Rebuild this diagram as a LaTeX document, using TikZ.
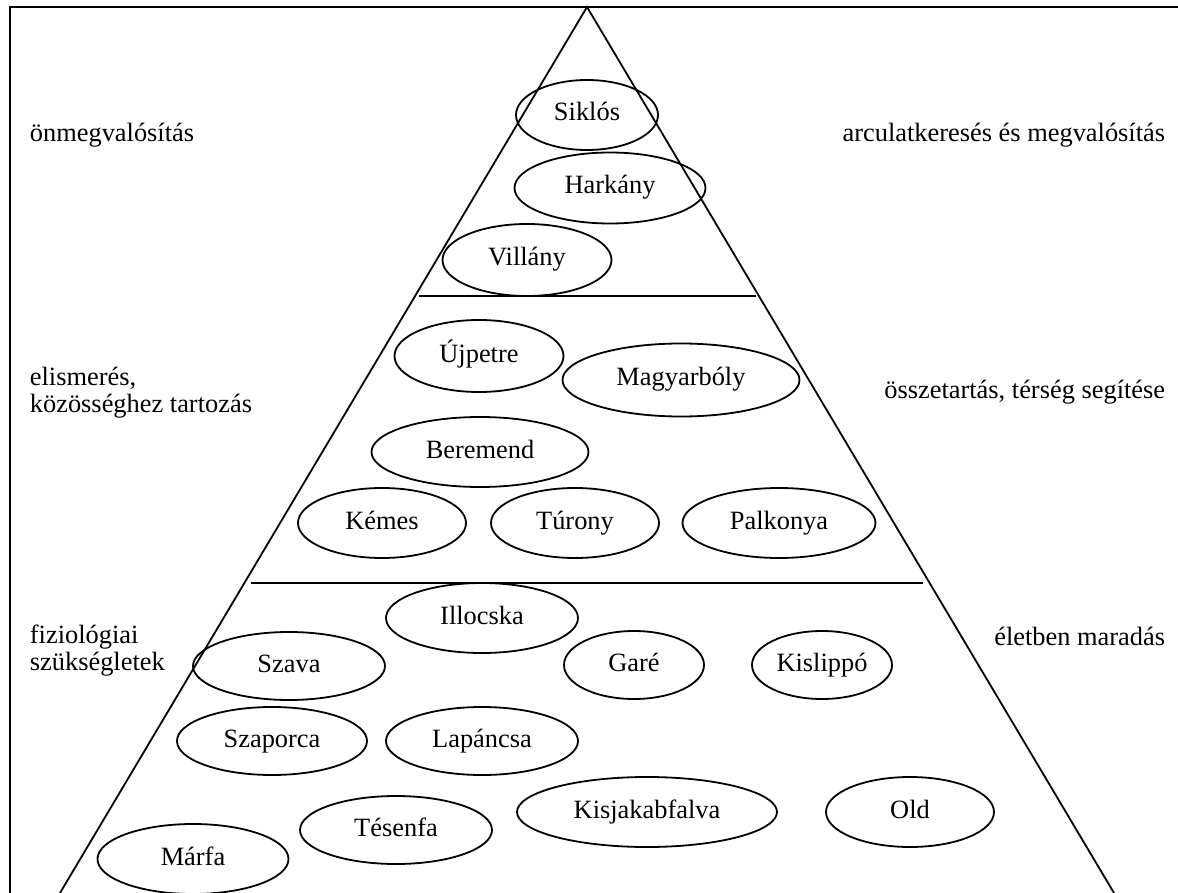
\documentclass[tikz,border=0pt]{standalone}
\usepackage{fontspec}
\setmainfont{Liberation Serif}
\usetikzlibrary{shapes.geometric}

\begin{document}
\begin{tikzpicture}
  [x=0.5pt,y=-0.5pt,line width=0.9pt,
   every node/.style={font=\fontsize{13.2}{13.5}\selectfont,inner sep=0pt},
   town/.style={ellipse,draw,line width=0.9pt,text height=0.7em,text depth=0.1em}]
  \useasboundingbox (0,0) rectangle (1178,893);
  \clip (0,0) rectangle (1178,893);

  % frame and pyramid
  \draw (10,7) rectangle (1220,940);
  \coordinate (apex) at (587,7);
  \coordinate (bl) at (60,893);
  \coordinate (br) at (1114,893);
  \draw (bl) -- (apex) -- (br);
  \coordinate (l1) at (419,296);
  \coordinate (r1) at (756,296);
  \coordinate (l2) at (251,583);
  \coordinate (r2) at (923,583);
  \draw (l1) -- (r1);
  \draw (l2) -- (r2);

  % top level
  \node[town,minimum width=71pt,minimum height=35pt] (siklos) at (587,115) {Siklós};
  \node[town,minimum width=95.5pt,minimum height=35.5pt] (harkany) at (610,188) {Harkány};
  \node[town,minimum width=84.5pt,minimum height=36pt] (villany) at (527,260) {Villány};

  % middle level
  \node[town,minimum width=84.5pt,minimum height=36pt] (ujpetre) at (479,356) {Újpetre};
  \node[town,minimum width=118.5pt,minimum height=36.5pt] (magyarboly) at (681,380) {Magyarbóly};
  \node[town,minimum width=108.5pt,minimum height=35pt] (beremend) at (480,452) {Beremend};
  \node[town,minimum width=84pt,minimum height=35pt] (kemes) at (382,523) {Kémes};
  \node[town,minimum width=84pt,minimum height=35pt] (turony) at (575,523) {Túrony};
  \node[town,minimum width=96.5pt,minimum height=35pt] (palkonya) at (779,523) {Palkonya};

  % bottom level
  \node[town,minimum width=96pt,minimum height=35pt] (illocska) at (482,618) {Illocska};
  \node[town,minimum width=96pt,minimum height=34pt] (szava) at (289,666) {Szava};
  \node[town,minimum width=70pt,minimum height=34pt] (gare) at (634,665) {Garé};
  \node[town,minimum width=70pt,minimum height=34pt] (kislippo) at (822,665) {Kislippó};
  \node[town,minimum width=95pt,minimum height=34pt] (szaporca) at (272,741) {Szaporca};
  \node[town,minimum width=96pt,minimum height=34pt] (lapancsa) at (482,741) {Lapáncsa};
  \node[town,minimum width=130pt,minimum height=35pt] (kisjakabfalva) at (647,812) {Kisjakabfalva};
  \node[town,minimum width=84pt,minimum height=35pt] (old) at (910,812) {Old};
  \node[town,minimum width=96pt,minimum height=34pt] (tesenfa) at (396,830) {Tésenfa};
  \node[town,minimum width=95.5pt,minimum height=35pt] (marfa) at (193,859) {Márfa};

  % side labels
  \node[anchor=west] (need1) at (29,135) {önmegvalósítás};
  \node[anchor=west,align=left] (need2) at (29,393) {elismerés,\\közösséghez tartozás};
  \node[anchor=west,align=left] (need3) at (29,651) {fiziológiai\\szükségletek};
  \node[anchor=east] (goal1) at (1166,135) {arculatkeresés és megvalósítás};
  \node[anchor=east] (goal2) at (1166,392) {összetartás, térség segítése};
  \node[anchor=east] (goal3) at (1166,636) {életben maradás};

\end{tikzpicture}
\end{document}
